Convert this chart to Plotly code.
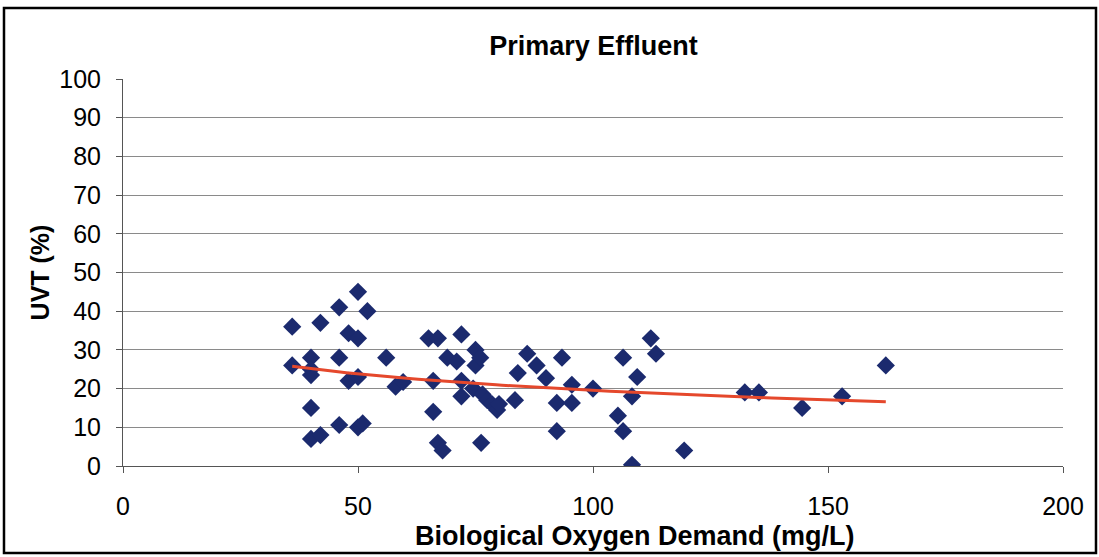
import numpy as np
import plotly.graph_objects as go

# Biological oxygen demand (mg/L) and UVT (%)
bod = [36, 36, 40, 40, 40, 40, 40, 42, 42, 46, 46, 46, 48, 48, 50, 50, 50, 50,
       52, 51, 56, 58, 59.6, 65, 66, 66, 67, 67, 68, 69, 71, 72, 72, 72, 75,
       75, 76, 74.5, 76.2, 76.5, 77.5, 78.5, 79.6, 80, 83.4, 84, 86, 88, 90,
       92.3, 92.3, 93.4, 95.5, 95.5, 100, 105.3, 106.4, 106.4, 108.3, 108.3,
       109.4, 112.3, 113.4, 119.4, 132.3, 135.3, 144.5, 153, 162.3]
uvt = [36, 26, 28, 25, 23.5, 15, 7, 37, 8, 41, 28, 10.6, 34.3, 22, 45, 33, 23,
       10, 40, 11, 28, 20.5, 21.7, 33, 22, 14, 33, 6, 4, 28, 27, 34, 22, 18, 30,
       26, 28, 20, 6, 18.5, 17, 16, 14.5, 16, 17, 24, 29, 26, 22.7,
       16.3, 9, 28, 21, 16.3, 20, 13, 28, 9, 18, 0.3,
       23, 33, 29, 4, 19, 19, 15, 18, 26]

# Logarithmic trendline fitted to the data
slope, intercept = np.polyfit(np.log(bod), uvt, 1)
trend_x = np.linspace(min(bod), max(bod), 100)
trend_y = slope * np.log(trend_x) + intercept

font = "Arial, Liberation Sans, sans-serif"

fig = go.Figure()

fig.add_trace(go.Scatter(
    x=bod,
    y=uvt,
    mode='markers',
    marker=dict(
        symbol='diamond',
        size=14,
        color='#1b2a6e',
        line=dict(width=0),
    ),
))

fig.add_trace(go.Scatter(
    x=trend_x,
    y=trend_y,
    mode='lines',
    line=dict(color='#e5482c', width=3),
))

fig.update_layout(
    showlegend=False,
    width=1099,
    height=557,
    margin=dict(l=123, r=36, t=79, b=91),
    paper_bgcolor='white',
    plot_bgcolor='white',
    font=dict(family=font, size=25, color='black'),
    title=dict(
        text='<b>Primary Effluent</b>',
        x=0.54,
        xanchor='center',
        y=0.919,
        yanchor='middle',
        font=dict(size=27, color='black'),
    ),
    xaxis=dict(
        range=[0, 200],
        tickvals=[0, 50, 100, 150, 200],
        showgrid=False,
        zeroline=False,
        showline=True,
        linecolor='#555555',
        linewidth=1,
        ticks='outside',
        ticklen=6,
        tickcolor='#555555',
        ticklabelstandoff=12,
    ),
    yaxis=dict(
        range=[0, 100],
        dtick=10,
        showgrid=True,
        gridcolor='#8a8a8a',
        gridwidth=1,
        zeroline=False,
        showline=True,
        linecolor='#555555',
        linewidth=1,
        ticks='outside',
        ticklen=6,
        tickcolor='#555555',
        ticklabelstandoff=10,
        title=dict(text='<b>UVT (%)</b>', font=dict(size=25), standoff=2),
    ),
    annotations=[dict(
        text='<b>Biological Oxygen Demand (mg/L)</b>',
        xref='paper', yref='paper',
        x=0.545, y=-0.181,
        xanchor='center', yanchor='middle',
        showarrow=False,
        font=dict(size=27),
    )],
    shapes=[dict(
        type='rect',
        xref='paper', yref='paper',
        x0=-0.1266, x1=1.0351, y0=-0.2248, y1=1.1835,
        line=dict(color='black', width=2.5),
    )],
)

fig.write_html("out.html", config={'displayModeBar': False},
               post_script="document.body.style.margin='0';")
